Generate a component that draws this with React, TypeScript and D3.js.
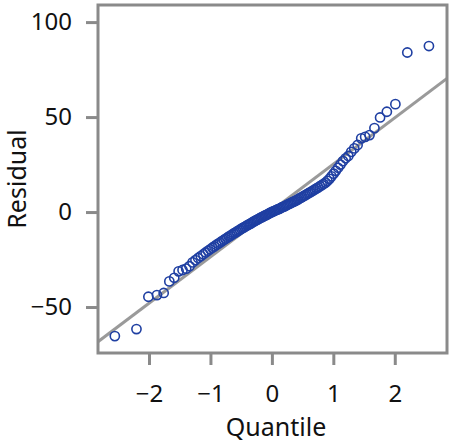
import * as d3 from "d3";
import React, { useEffect, useRef } from "react";

// theoretical normal quantiles (x) and sorted residuals (y)
const quantiles = [
  -2.556, -2.204, -2.01, -1.871, -1.761, -1.669, -1.589, -1.518, -1.454, -1.395,
  -1.341, -1.291, -1.244, -1.2, -1.157, -1.116, -1.078, -1.04, -1.005, -0.97,
  -0.937, -0.904, -0.873, -0.842, -0.812, -0.783, -0.755, -0.727, -0.7, -0.673,
  -0.646, -0.62, -0.595, -0.57, -0.545, -0.521, -0.496, -0.473, -0.449, -0.426,
  -0.403, -0.38, -0.357, -0.335, -0.312, -0.29, -0.268, -0.246, -0.224, -0.203,
  -0.181, -0.16, -0.138, -0.117, -0.096, -0.074, -0.053, -0.032, -0.011,
  0.011, 0.032, 0.053, 0.074, 0.096, 0.117, 0.138, 0.16, 0.181, 0.203,
  0.224, 0.246, 0.268, 0.29, 0.312, 0.335, 0.357, 0.38, 0.403, 0.426,
  0.449, 0.473, 0.496, 0.521, 0.545, 0.57, 0.595, 0.62, 0.646, 0.673,
  0.7, 0.727, 0.755, 0.783, 0.812, 0.842, 0.873, 0.904, 0.937, 0.97,
  1.005, 1.04, 1.078, 1.116, 1.157, 1.2, 1.244, 1.291, 1.341, 1.395,
  1.454, 1.518, 1.589, 1.669, 1.761, 1.871, 2.01, 2.204, 2.556,
];

const residuals = [
  -65.3, -61.6, -44.6, -43.7, -42.6, -36.5, -34.6, -31.2, -30.5, -29.8,
  -28.5, -26.5, -25.3, -24.2, -23.2, -22.2, -21.3, -20.4, -19.6, -18.8,
  -18.1, -17.3, -16.6, -16.0, -15.3, -14.7, -14.1, -13.5, -12.9, -12.4,
  -11.8, -11.3, -10.8, -10.3, -9.8, -9.3, -8.8, -8.4, -7.9, -7.5,
  -7.0, -6.6, -6.2, -5.8, -5.3, -4.9, -4.5, -4.1, -3.8, -3.4,
  -3.0, -2.7, -2.3, -1.9, -1.6, -1.2, -0.9, -0.5, -0.2,
  0.2, 0.5, 0.8, 1.1, 1.4, 1.7, 2.0, 2.4, 2.7, 3.0,
  3.4, 3.7, 4.1, 4.4, 4.8, 5.2, 5.5, 5.9, 6.3, 6.7,
  7.2, 7.6, 8.0, 8.5, 8.9, 9.4, 9.9, 10.3, 10.8, 11.4,
  11.9, 12.5, 13.0, 13.6, 14.2, 14.8, 15.5, 16.4, 17.5, 18.8,
  20.2, 21.7, 23.3, 25, 26.8, 28.3, 29.5, 31.7, 33.5, 35.3,
  38.8, 39.6, 40.5, 44.2, 49.8, 52.8, 56.8, 84, 87.4,
];

// reference line: intercept and slope
const refLine = { intercept: 0.8, slope: 24.4 };

const xTicks = [-2, -1, 0, 1, 2];
const yTicks = [-50, 0, 50, 100];

const App = () => {
  const svgRef = useRef<SVGSVGElement | null>(null);

  useEffect(() => {
    const width = 450;
    const height = 442;
    const margin = { top: 5, right: 3, bottom: 89, left: 98 };
    const font = "'Noto Sans', 'Open Sans', sans-serif";
    const frameColor = "#8a8a8a";

    const svg = d3.select(svgRef.current).attr("width", width).attr("height", height);
    svg.selectAll("*").remove();

    const x = d3.scaleLinear().domain([-2.83, 2.85]).range([margin.left, width - margin.right]);
    const y = d3.scaleLinear().domain([-74.2, 109]).range([height - margin.bottom, margin.top]);

    const clipId = "plot-clip";
    svg.append("clipPath").attr("id", clipId)
      .append("rect")
      .attr("x", margin.left).attr("y", margin.top)
      .attr("width", width - margin.left - margin.right)
      .attr("height", height - margin.top - margin.bottom);

    // reference line
    const [x0, x1] = x.domain();
    svg.append("line")
      .attr("clip-path", `url(#${clipId})`)
      .attr("x1", x(x0)).attr("y1", y(refLine.intercept + refLine.slope * x0))
      .attr("x2", x(x1)).attr("y2", y(refLine.intercept + refLine.slope * x1))
      .attr("stroke", "#9a9a9a")
      .attr("stroke-width", 3);

    // points
    const points = quantiles.map((q, i) => ({ q, r: residuals[i] }));
    svg.append("g")
      .selectAll("circle")
      .data(points)
      .join("circle")
      .attr("cx", (d) => x(d.q))
      .attr("cy", (d) => y(d.r))
      .attr("r", 4.6)
      .attr("fill", "none")
      .attr("stroke", "#1f3fa2")
      .attr("stroke-width", 1.6);

    // frame
    svg.append("rect")
      .attr("x", margin.left).attr("y", margin.top)
      .attr("width", width - margin.left - margin.right)
      .attr("height", height - margin.top - margin.bottom)
      .attr("fill", "none")
      .attr("stroke", frameColor)
      .attr("stroke-width", 3);

    const fmt = (v: number) => (v < 0 ? "\u2212" + Math.abs(v) : String(v));

    // x axis
    const xAxis = svg.append("g")
      .attr("transform", `translate(0,${height - margin.bottom})`)
      .call(d3.axisBottom(x).tickValues(xTicks).tickSize(12).tickPadding(20).tickFormat((d) => fmt(+d)));
    xAxis.select(".domain").remove();
    xAxis.selectAll(".tick line").attr("stroke", frameColor).attr("stroke-width", 3);
    xAxis.selectAll(".tick text").attr("font-family", font).attr("font-size", 24).attr("fill", "#111");

    // y axis
    const yAxis = svg.append("g")
      .attr("transform", `translate(${margin.left},0)`)
      .call(d3.axisLeft(y).tickValues(yTicks).tickSize(12).tickPadding(14).tickFormat((d) => fmt(+d)));
    yAxis.select(".domain").remove();
    yAxis.selectAll(".tick line").attr("stroke", frameColor).attr("stroke-width", 3);
    yAxis.selectAll(".tick text").attr("font-family", font).attr("font-size", 24).attr("fill", "#111");

    // axis titles
    svg.append("text")
      .attr("x", 276)
      .attr("y", 436)
      .attr("text-anchor", "middle")
      .attr("font-family", font)
      .attr("font-size", 25)
      .attr("fill", "#111")
      .text("Quantile");

    svg.append("text")
      .attr("transform", `translate(26,${(margin.top + height - margin.bottom) / 2}) rotate(-90)`)
      .attr("text-anchor", "middle")
      .attr("font-family", font)
      .attr("font-size", 25)
      .attr("fill", "#111")
      .text("Residual");
  }, []);

  return (
    <div style={{ position: "absolute", left: 0, top: 0 }}>
      <svg ref={svgRef} style={{ display: "block" }}></svg>
    </div>
  );
};

export default App;
